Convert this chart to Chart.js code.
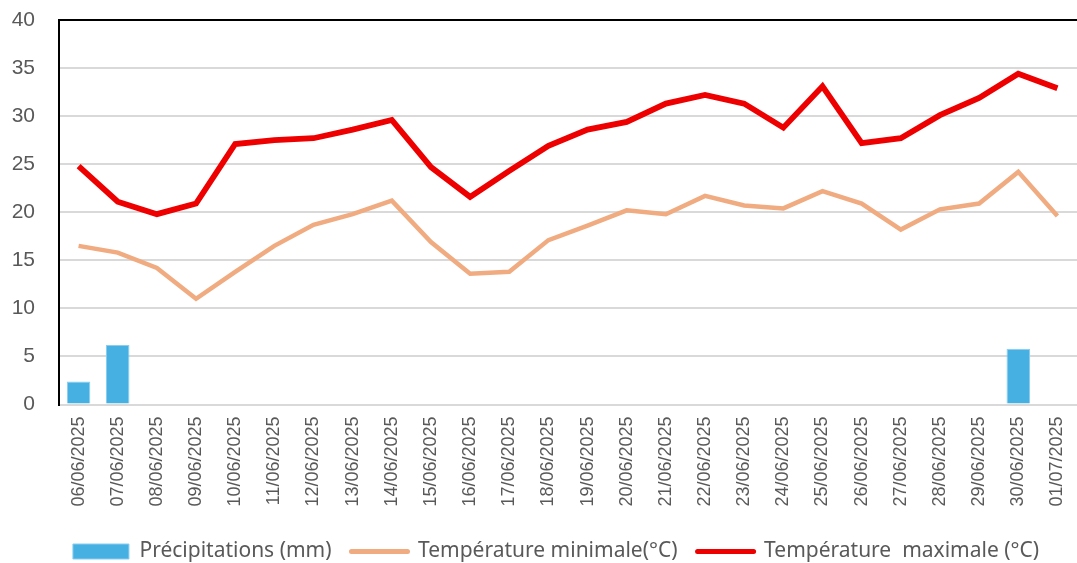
<!DOCTYPE html>
<html>
<head>
<meta charset="utf-8">
<script src="https://cdn.jsdelivr.net/npm/chart.js@4.4.1/dist/chart.umd.min.js"></script>
<style>
html,body{margin:0;padding:0;background:#fff;}
#wrap{width:1077px;height:563px;position:relative;}
</style>
</head>
<body>
<div id="wrap"><canvas id="c" width="1077" height="563"></canvas></div>
<script>
const dates = ["06/06/2025","07/06/2025","08/06/2025","09/06/2025","10/06/2025","11/06/2025","12/06/2025","13/06/2025","14/06/2025","15/06/2025","16/06/2025","17/06/2025","18/06/2025","19/06/2025","20/06/2025","21/06/2025","22/06/2025","23/06/2025","24/06/2025","25/06/2025","26/06/2025","27/06/2025","28/06/2025","29/06/2025","30/06/2025","01/07/2025"];
const precipitations = [2.4,6.2,0,0,0,0,0,0,0,0,0,0,0,0,0,0,0,0,0,0,0,0,0,0,5.8,0];
const tempMin = [16.5,15.8,14.2,11.0,13.8,16.5,18.7,19.8,21.2,16.9,13.6,13.8,17.1,18.6,20.2,19.8,21.7,20.7,20.4,22.2,20.9,18.2,20.3,20.9,24.2,19.6];
const tempMax = [24.8,21.1,19.8,20.9,27.1,27.5,27.7,28.6,29.6,24.7,21.6,24.3,26.9,28.6,29.4,31.3,32.2,31.3,28.8,33.1,27.2,27.7,30.1,31.9,34.4,32.9];
const yTicks = [0,5,10,15,20,25,30,35,40];

const labelsText = ["Précipitations (mm)","Température minimale(°C)","Température  maximale (°C)"];
const COLORS = {bar:'#46B0E2', barBorder:'#8ACDEF', min:'#F0AB80', max:'#EE0000'};

const shiftLegend = {
  id:'shiftLegend',
  afterLayout(chart){ const lg = chart.legend; if(lg){ lg.left += 16; lg.right += 16; } }
};

new Chart(document.getElementById('c'), {
  data: {
    labels: dates,
    datasets: [
      {type:'bar', label: labelsText[0], data: precipitations, backgroundColor:COLORS.bar, borderColor:COLORS.barBorder, borderWidth:1, barPercentage:0.6, categoryPercentage:1, order:3},
      {type:'line', label: labelsText[1], data: tempMin, borderColor:COLORS.min, backgroundColor:COLORS.min, borderWidth:4.5, pointRadius:0, tension:0, order:2},
      {type:'line', label: labelsText[2], data: tempMax, borderColor:COLORS.max, backgroundColor:COLORS.max, borderWidth:5.8, pointRadius:0, tension:0, order:1}
    ]
  },
  plugins:[shiftLegend],
  options: {
    responsive:false,
    animation:false,
    layout:{padding:{top:20,right:-3,bottom:-9,left:0}},
    plugins:{
      tooltip:{enabled:false},
      legend:{
        position:'bottom',
        labels:{
          font:{family:'"Noto Sans"', size:21},
          color:'#595959',
          usePointStyle:true,
          pointStyleWidth:56,
          boxHeight:15,
          padding:20,
          generateLabels:(chart)=>{
            const items = Chart.defaults.plugins.legend.labels.generateLabels(chart);
            items.sort((a,b)=>a.datasetIndex-b.datasetIndex);
            items.forEach((it)=>{
              const i = it.datasetIndex;
              if(i===0){ it.pointStyle='rect'; it.fillStyle=COLORS.bar; it.strokeStyle=COLORS.barBorder; it.lineWidth=1; }
              else { it.pointStyle='line'; it.lineWidth = 5; it.strokeStyle = (i===1?COLORS.min:COLORS.max); it.lineCap='round'; }
            });
            return items;
          }
        }
      }
    },
    scales:{
      x:{
        offset:true,
        grid:{display:false, drawTicks:true, tickLength:12, tickColor:'rgba(0,0,0,0)'},
        border:{display:true,color:'#D9D9D9',width:2},
        ticks:{maxRotation:90,minRotation:90,autoSkip:false,padding:0,color:'#595959',font:{family:'"Liberation Sans"',size:18,lineHeight:1}},
        afterFit:(s)=>{s.height=116.5;}
      },
      y:{
        min:0,max:40,
        afterBuildTicks:(s)=>{s.ticks = yTicks.map(v=>({value:v}));},
        grid:{drawTicks:true, tickLength:24, tickColor:'rgba(0,0,0,0)', color:(ctx)=> (ctx.tick && ctx.tick.value===40) ? '#000000' : '#D9D9D9', lineWidth:2},
        border:{display:true,color:'#000000',width:2},
        ticks:{padding:0,color:'#595959',font:{family:'"Liberation Sans"',size:21}},
        afterFit:(s)=>{s.width=59;}
      }
    }
  }
});
</script>
</body>
</html>
